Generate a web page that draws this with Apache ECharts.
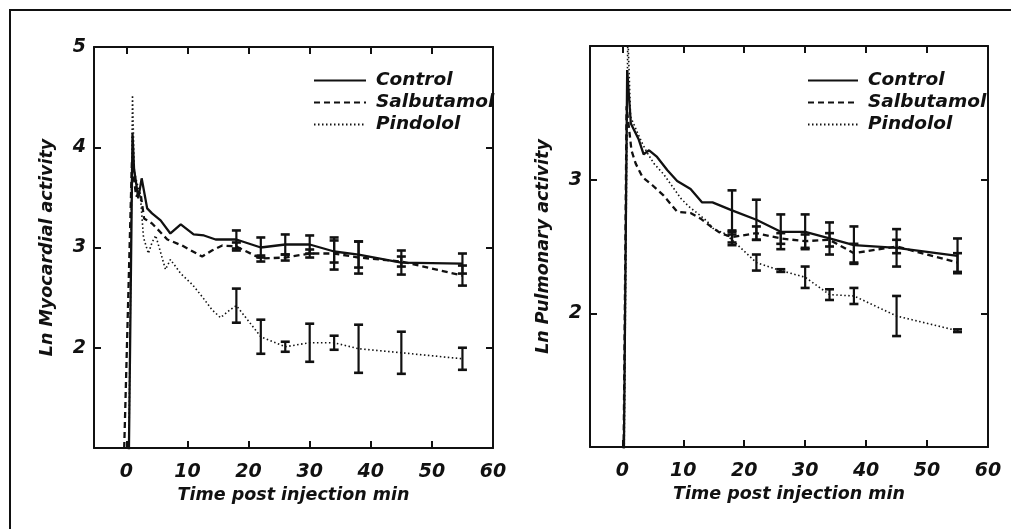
<!DOCTYPE html>
<html>
<head>
<meta charset="utf-8">
<script src="https://cdn.jsdelivr.net/npm/echarts@6/dist/echarts.min.js"></script>
<style>
html,body{margin:0;padding:0;background:#fff;}
#chart{width:1011px;height:529px;}
</style>
</head>
<body>
<div id="chart"></div>
<script>
// ---- tick labels ----
const xTicks = [0, 10, 20, 30, 40, 50, 60];
const myoYTicks = [2, 3, 4, 5];
const pulYTicks = [2, 3];
const seriesNames = ['Control', 'Salbutamol', 'Pindolol'];
const errTimes = [18, 22, 26, 30, 34, 38, 45, 55];

// ---- Myocardial (left panel): [time, ln activity] ----
const myoControl = [[0.4,0.9],[1.0,4.14],[1.25,3.79],[1.95,3.49],[2.5,3.69],[3.4,3.39],[4.2,3.34],[5.6,3.27],[7.2,3.14],[8.9,3.23],[11,3.13],[12.7,3.12],[14.6,3.08],[18,3.08],[22,3.0],[26,3.03],[30,3.03],[34,2.96],[38,2.93],[45,2.85],[55,2.84]];
const myoSalbutamol = [[-0.4,0.9],[0.9,3.85],[1.6,3.51],[2.3,3.55],[2.9,3.29],[4.2,3.24],[6.7,3.08],[9.1,3.02],[12.4,2.91],[14,2.97],[15.7,3.02],[18,3.01],[22,2.89],[26,2.90],[30,2.94],[34,2.94],[38,2.90],[45,2.86],[55,2.72]];
const myoPindolol = [[0.4,0.9],[1.0,4.52],[1.3,3.75],[2.3,3.51],[2.8,3.1],[3.6,2.94],[4.2,3.05],[4.8,3.12],[6.4,2.78],[7.2,2.88],[8.9,2.74],[10.8,2.63],[12.4,2.51],[14,2.38],[15.4,2.30],[17,2.38],[18,2.42],[22,2.11],[26,2.01],[30,2.05],[34,2.05],[38,1.99],[45,1.95],[55,1.89]];
const myoControlSE = [0.09, 0.10, 0.10, 0.09, 0.11, 0.13, 0.12, 0.10];
const myoSalbutamolSE = [0.04, 0.03, 0.03, 0.04, 0.16, 0.16, 0.05, 0.10];
const myoPindololSE = [0.17, 0.17, 0.05, 0.19, 0.07, 0.24, 0.21, 0.11];

// ---- Pulmonary (right panel) ----
const pulControl = [[0.25,0.9],[0.8,3.82],[1.4,3.42],[2.7,3.30],[3.5,3.19],[4.4,3.22],[5.7,3.17],[7.4,3.07],[9,2.99],[11.2,2.93],[13.1,2.83],[14.8,2.83],[18,2.77],[22,2.70],[26,2.61],[30,2.61],[34,2.56],[38,2.51],[45,2.49],[55,2.43]];
const pulSalbutamol = [[0.2,0.9],[0.7,3.55],[1.5,3.22],[2.2,3.12],[3.3,3.02],[4.9,2.96],[6.8,2.88],[9.0,2.76],[11.2,2.75],[12.8,2.71],[14.5,2.65],[16.1,2.60],[18,2.57],[22,2.60],[26,2.56],[30,2.54],[34,2.55],[38,2.45],[45,2.50],[55,2.38]];
const pulPindolol = [[0.3,0.9],[0.9,4.1],[1.36,3.47],[2.5,3.35],[3.3,3.27],[4.1,3.20],[5.2,3.12],[6.8,3.04],[8.2,2.95],[9.6,2.86],[10.9,2.80],[12.3,2.75],[13.9,2.69],[15,2.63],[16.7,2.60],[18,2.55],[22,2.38],[26,2.32],[30,2.27],[34,2.14],[38,2.13],[45,1.98],[55,1.87]];
const pulControlSE = [0.15, 0.15, 0.13, 0.13, 0.12, 0.14, 0.14, 0.13];
const pulSalbutamolSE = [0.04, 0.05, 0.04, 0.05, 0.05, 0.07, 0.05, 0.07];
const pulPindololSE = [0.04, 0.06, 0.01, 0.08, 0.04, 0.06, 0.15, 0.01];

// ---- styling ----
const FONT = 'DejaVu Sans';
const txt = (size) => ({fontFamily: FONT, fontWeight: 'bold', fontStyle: 'italic', fontSize: size, color: '#111'});
const lineStyles = [
  {color: '#111', width: 2.3, type: 'solid'},
  {color: '#111', width: 2.3, type: [6, 4]},
  {color: '#111', width: 1.6, type: [1.5, 2.5]}
];

function valueAt(arr, t) {
  for (const p of arr) if (p[0] === t) return p[1];
  return null;
}
function errData(arr, se) {
  return errTimes.map((t, i) => [t, valueAt(arr, t), se[i]]);
}
function renderErr(params, api) {
  const x = api.value(0), m = api.value(1), s = api.value(2);
  const top = api.coord([x, m + s]);
  const bot = api.coord([x, m - s]);
  const hw = 4.5;
  const st = {stroke: '#111', lineWidth: 2.2};
  return {type: 'group', children: [
    {type: 'line', shape: {x1: top[0], y1: top[1], x2: bot[0], y2: bot[1]}, style: st},
    {type: 'line', shape: {x1: top[0] - hw, y1: top[1], x2: top[0] + hw, y2: top[1]}, style: {stroke: '#111', lineWidth: 2.6}},
    {type: 'line', shape: {x1: bot[0] - hw, y1: bot[1], x2: bot[0] + hw, y2: bot[1]}, style: {stroke: '#111', lineWidth: 2.6}}
  ]};
}

const axisLine = {show: true, onZero: false, lineStyle: {color: '#111', width: 2}};
function xAxisDef(grid, pos, showLabels) {
  return {
    type: 'value', gridIndex: grid, position: pos, min: -5.3, max: 60,
    axisLine: axisLine, splitLine: {show: false},
    axisTick: {show: true, inside: true, length: 7, lineStyle: {color: '#111', width: 2}, customValues: xTicks},
    axisLabel: Object.assign({show: showLabels, margin: 15, customValues: xTicks}, txt(19)),
    name: showLabels ? 'Time post injection min' : '',
    nameLocation: 'middle', nameGap: 37,
    nameTextStyle: txt(17.5)
  };
}
function yAxisDef(grid, pos, min, max, ticks, showLabels, name) {
  return {
    type: 'value', gridIndex: grid, position: pos, min: min, max: max,
    axisLine: axisLine, splitLine: {show: false},
    axisTick: {show: true, inside: true, length: 7, lineStyle: {color: '#111', width: 2}, customValues: ticks},
    axisLabel: Object.assign({show: showLabels, margin: 8, customValues: ticks}, txt(19)),
    name: name, nameLocation: 'middle', nameGap: 38, nameRotate: 90,
    nameTextStyle: txt(17.5)
  };
}

const lineSets = [
  [myoControl, myoSalbutamol, myoPindolol],
  [pulControl, pulSalbutamol, pulPindolol]
];
const seSets = [
  [myoControlSE, myoSalbutamolSE, myoPindololSE],
  [pulControlSE, pulSalbutamolSE, pulPindololSE]
];

const series = [];
[0, 1].forEach(g => {
  lineSets[g].forEach((data, k) => {
    series.push({
      type: 'line', name: seriesNames[k], xAxisIndex: g * 2, yAxisIndex: g * 2,
      data: data, symbol: 'none', smooth: false, clip: true,
      lineStyle: lineStyles[k], itemStyle: {color: '#111'}, z: 3
    });
  });
  lineSets[g].forEach((data, k) => {
    series.push({
      type: 'custom', name: 'err' + g + k, xAxisIndex: g * 2, yAxisIndex: g * 2,
      data: errData(data, seSets[g][k]), renderItem: renderErr,
      encode: {x: 0, y: 1}, z: 4, silent: true
    });
  });
});

function legendDef(left, width) {
  return {
    show: true, orient: 'vertical', left: left, top: 71, padding: 0,
    itemWidth: width, itemHeight: 14, itemGap: 3,
    data: seriesNames.map(n => ({name: n})),
    itemStyle: {color: 'rgba(0,0,0,0)', borderColor: 'rgba(0,0,0,0)', borderWidth: 0, opacity: 0},
    textStyle: Object.assign({padding: [0, 0, 0, 5]}, txt(18.5)),
    selectedMode: false
  };
}

const option = {
  backgroundColor: '#fff',
  animation: false,
  grid: [
    {left: 94, top: 47, width: 399, height: 401},
    {left: 590, top: 46, width: 398, height: 401}
  ],
  xAxis: [
    xAxisDef(0, 'bottom', true), xAxisDef(0, 'top', false),
    xAxisDef(1, 'bottom', true), xAxisDef(1, 'top', false)
  ],
  yAxis: [
    yAxisDef(0, 'left', 1, 5, myoYTicks, true, 'Ln Myocardial activity'),
    yAxisDef(0, 'right', 1, 5, myoYTicks, false, ''),
    yAxisDef(1, 'left', 1, 4, pulYTicks, true, 'Ln Pulmonary activity'),
    yAxisDef(1, 'right', 1, 4, pulYTicks, false, '')
  ],
  legend: [legendDef(313, 52), legendDef(807, 50)],
  graphic: [{
    type: 'rect', shape: {x: 10, y: 10, width: 1100, height: 600},
    style: {fill: 'none', stroke: '#111', lineWidth: 2}, silent: true
  }],
  series: series
};

const chart = echarts.init(document.getElementById('chart'), null, {renderer: 'canvas'});
chart.setOption(option);
</script>
</body>
</html>
